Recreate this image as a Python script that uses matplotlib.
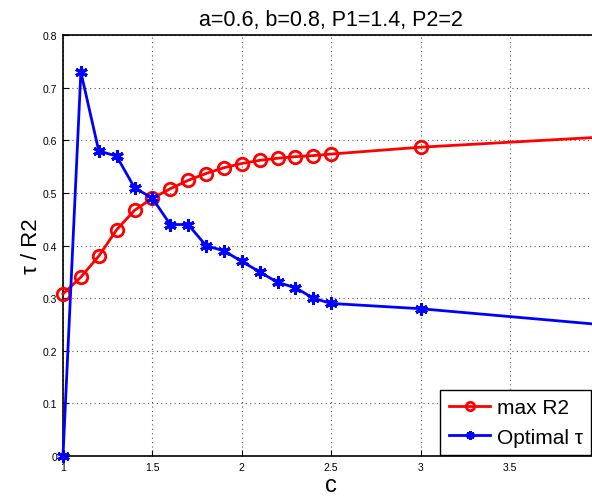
import numpy as np
import matplotlib
matplotlib.use('Agg')
import matplotlib.pyplot as plt

plt.rcParams['font.family'] = ['Liberation Sans', 'DejaVu Sans']

# data
c_vals = [1.0, 1.1, 1.2, 1.3, 1.4, 1.5, 1.6, 1.7, 1.8, 1.9, 2.0, 2.1, 2.2, 2.3, 2.4, 2.5, 3.0, 4.0]
max_r2 = [0.308, 0.340, 0.380, 0.430, 0.467, 0.490, 0.508, 0.524, 0.537, 0.548,
          0.556, 0.562, 0.566, 0.569, 0.571, 0.574, 0.587, 0.606]
opt_tau = [0.0, 0.73, 0.58, 0.57, 0.51, 0.49, 0.44, 0.44, 0.40, 0.39,
           0.37, 0.35, 0.33, 0.32, 0.30, 0.29, 0.28, 0.25]
x_ticks = [1, 1.5, 2, 2.5, 3, 3.5]
x_tick_labels = ['1', '1.5', '2', '2.5', '3', '3.5']
y_ticks = [0, 0.1, 0.2, 0.3, 0.4, 0.5, 0.6, 0.7, 0.8]
y_tick_labels = ['0', '0.1', '0.2', '0.3', '0.4', '0.5', '0.6', '0.7', '0.8']

fig = plt.figure(figsize=(5.92, 5.02), dpi=100)
ax = fig.add_axes([0.1064, 0.0896, 0.906, 0.8384])

ax.plot(c_vals, max_r2, '-o', color='red', lw=2, ms=9, mfc='none', mew=2,
        label='max R2', clip_on=False, zorder=3)
ax.plot(c_vals, opt_tau, '-', marker=(6, 2, 0), color='blue', lw=2, ms=9, mew=2.2,
        label='Optimal \u03c4', clip_on=False, zorder=3)

ax.set_xlim(1, 4)
ax.set_ylim(0, 0.8)
ax.set_xticks(x_ticks)
ax.set_xticklabels(x_tick_labels)
ax.set_yticks(y_ticks)
ax.set_yticklabels(y_tick_labels)
ax.tick_params(direction='in', labelsize=7.5, length=4, width=0.8, pad=4)
ax.grid(True, linestyle=(0, (1, 3)), color='#555555', lw=0.8)
for s in ax.spines.values():
    s.set_linewidth(1.2)

ax.set_xlabel('c', fontsize=17, labelpad=2)
ax.set_ylabel('\u03c4 / R2', fontsize=16, labelpad=1)
ax.set_title('a=0.6, b=0.8, P1=1.4, P2=2', fontsize=15.5, pad=7)

leg = ax.legend(loc='lower right', bbox_to_anchor=(591 / 592, 46 / 502),
                bbox_transform=fig.transFigure, fontsize=15, fancybox=False,
                framealpha=1, edgecolor='black', borderpad=0.4, handlelength=2.0,
                handletextpad=0.3, labelspacing=0.5, borderaxespad=0)
leg.get_frame().set_linewidth(1.0)
for h in leg.legend_handles:
    h.set_markersize(6)

fig.savefig('out.png', dpi=100)
